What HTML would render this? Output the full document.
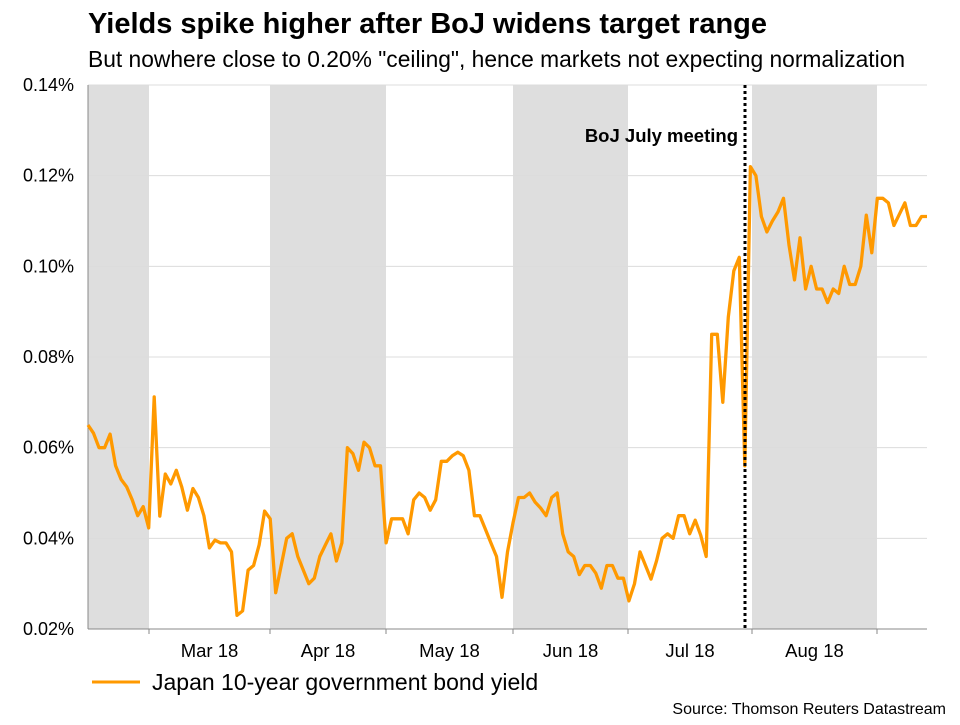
<!DOCTYPE html>
<html><head><meta charset="utf-8"><style>
body{margin:0;background:#fff;font-family:"Liberation Sans",Arial,sans-serif}
svg text{font-family:"Liberation Sans",Arial,sans-serif}
</style></head><body>
<svg id="chart" width="960" height="720">
<text x="88" y="33" font-size="29" font-weight="bold">Yields spike higher after BoJ widens target range</text>
<text x="88" y="67" font-size="22.8">But nowhere close to 0.20% "ceiling", hence markets not expecting normalization</text>
<g id="bands"></g><g id="grid"></g><g id="axes"></g><g id="series"></g>
<line x1="745" y1="85" x2="745" y2="629" stroke="#000" stroke-width="3" stroke-dasharray="3,3"/>
<text x="738" y="142" font-size="18.5" font-weight="bold" text-anchor="end">BoJ July meeting</text>
<line x1="92" y1="682" x2="140" y2="682" stroke="#f90" stroke-width="3"/>
<text x="152" y="690" font-size="23">Japan 10-year government bond yield</text>
<text x="946" y="714" font-size="16" text-anchor="end">Source: Thomson Reuters Datastream</text>
</svg>
<script>
const yTicks=[0.02,0.04,0.06,0.08,0.10,0.12,0.14];
const monthLabels=["Mar 18","Apr 18","May 18","Jun 18","Jul 18","Aug 18"];
const monthStarts=[149,270,386,513,628,752,877];
const yields=[0.065,0.0632,0.060,0.060,0.063,0.056,0.053,0.0514,0.0485,0.045,0.047,0.0423,0.0712,0.0449,0.0542,0.052,0.055,0.0513,0.0462,0.051,0.049,0.045,0.0379,0.0396,0.039,0.039,0.037,0.023,0.024,0.033,0.034,0.0385,0.046,0.0443,0.028,0.034,0.040,
0.041,0.036,0.033,0.030,0.0312,0.036,0.0385,0.041,0.035,0.039,0.060,0.0587,0.055,0.0612,0.060,0.056,0.056,0.039,0.0443,0.0443,0.0443,0.041,0.0485,0.050,0.049,0.0462,0.0485,0.057,0.057,0.0582,0.059,0.0582,0.055,0.045,0.045,0.042,0.039,0.036,0.027,0.037,0.0434,
0.049,0.049,0.050,0.048,0.0467,0.045,0.049,0.050,0.041,0.037,0.036,0.032,0.034,0.034,0.0323,0.029,0.034,0.034,0.0312,0.0312,0.0262,0.030,0.037,0.034,0.031,0.035,0.040,0.041,0.040,0.045,0.045,0.041,0.044,0.0407,0.036,0.085,0.085,0.070,0.0888,0.099,0.102,0.056,0.122,
0.120,0.111,0.1076,0.110,0.112,0.115,0.1047,0.097,0.1063,0.095,0.100,0.095,0.095,0.092,0.095,0.094,0.100,0.096,0.096,0.100,0.1113,0.103,0.115,0.115,0.114,0.109,0.1115,0.114,0.109,0.109,0.111,0.111];
const X0=88,X1=927,Y0=629,Y1=85;
const ns="http://www.w3.org/2000/svg";
function y(v){return Y0-(v-0.02)/(0.14-0.02)*(Y0-Y1);}
function x(i){return X0+i*(X1-X0)/(yields.length-1);}
function mk(t,a,p){const e=document.createElementNS(ns,t);for(const k in a)e.setAttribute(k,a[k]);p.appendChild(e);return e;}
const bands=document.getElementById('bands'),grid=document.getElementById('grid'),axes=document.getElementById('axes'),series=document.getElementById('series');
const bandEdges=[X0,...monthStarts,X1];
for(let i=0;i<bandEdges.length-1;i+=2){
 const r=mk('rect',{x:bandEdges[i],y:Y1,width:bandEdges[i+1]-bandEdges[i],height:Y0-Y1,fill:'#dedede'},bands);
 
 
}
yTicks.forEach(v=>{
 if(v>0.02){const l=mk('line',{x1:X0,x2:X1,y1:y(v),y2:y(v),stroke:'#dcdcdc','stroke-width':1},grid);
 
 }
 const t=mk('text',{x:74,y:y(v)+6,'font-size':18,'text-anchor':'end'},axes);t.textContent=v.toFixed(2)+'%';
 
 
});
const ax=mk('line',{x1:X0,x2:X1,y1:Y0,y2:Y0,stroke:'#888','stroke-width':1},axes);


const ay=mk('line',{x1:X0,x2:X0,y1:Y1,y2:Y0,stroke:'#888','stroke-width':1},axes);


monthStarts.forEach((m,i)=>{
 const tk=mk('line',{x1:m,x2:m,y1:Y0,y2:Y0+5,stroke:'#888'},axes);
 
 
 if(i<monthLabels.length){const t=mk('text',{x:(m+monthStarts[i+1])/2,y:657,'font-size':18.5,'text-anchor':'middle'},axes);t.textContent=monthLabels[i];
 
 }
});
const p=mk('polyline',{points:yields.map((v,i)=>x(i).toFixed(1)+','+y(v).toFixed(1)).join(' '),fill:'none',stroke:'#f90','stroke-width':3.3,'stroke-linejoin':'round'},series);


</script>
</body></html>
